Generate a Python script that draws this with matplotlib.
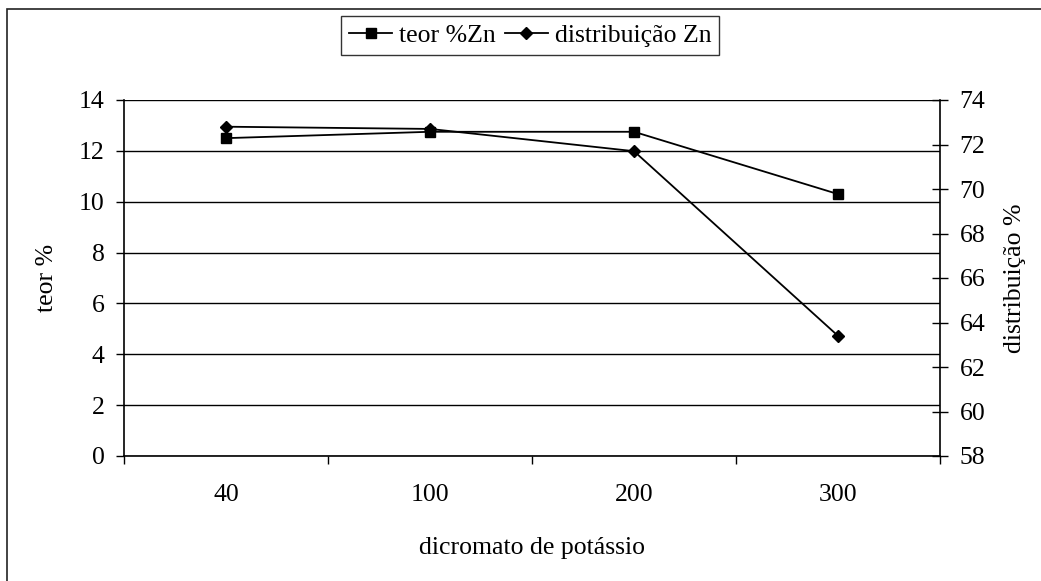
import numpy as np
import matplotlib
matplotlib.use("Agg")
import matplotlib.pyplot as plt
from matplotlib.patches import Rectangle
from matplotlib.lines import Line2D

plt.rcParams['font.family'] = ['Liberation Serif', 'DejaVu Serif']
plt.rcParams['font.size'] = 18.5

categorias = ['40', '100', '200', '300']
teor_zn = [12.5, 12.75, 12.75, 10.3]          # eixo esquerdo, %
distribuicao_zn = [72.8, 72.7, 71.7, 63.4]    # eixo direito, %

fig = plt.figure(figsize=(10.41, 5.81), dpi=100)
ax = fig.add_axes([124/1041, 1 - 456/581, 816/1041, 356/581])
ax2 = ax.twinx()

x = np.arange(len(categorias))

# linhas de grade horizontais do eixo primario
ax.set_ylim(0, 14)
ax.set_yticks(np.arange(0, 15, 2))
ax.set_xlim(-0.5, len(categorias) - 0.5)
ax.yaxis.grid(True, color='black', lw=1.0)
ax.set_axisbelow(True)

ax.plot(x, teor_zn, color='black', lw=1.3, marker='s', ms=7.5, zorder=3)
ax2.plot(x, distribuicao_zn, color='black', lw=1.3, marker='D', ms=6.5, zorder=3)

ax2.set_ylim(58, 74)
ax2.set_yticks(np.arange(58, 75, 2))

# eixo x por categorias: marcas nos limites, rotulos no centro
ax.set_xticks(np.arange(-0.5, len(categorias), 1.0))
ax.set_xticklabels([])
ax.set_xticks(x, minor=True)
ax.set_xticklabels(categorias, minor=True)
ax.tick_params(axis='x', which='major', direction='out', length=6, width=1)
ax.tick_params(axis='x', which='minor', length=0, pad=20)
ax.tick_params(axis='y', direction='out', length=6, width=1, pad=8)
ax2.tick_params(axis='y', direction='inout', length=12, width=1, pad=8)

for a in (ax, ax2):
    a.spines['top'].set_visible(False)
    for s in a.spines.values():
        s.set_linewidth(1.2)
ax.spines['right'].set_visible(False)
ax2.spines['left'].set_visible(False)
ax2.spines['bottom'].set_visible(False)

ax.set_xlabel('dicromato de potássio', va='center')
ax.xaxis.set_label_coords(0.5, -0.258)
ax.set_ylabel('teor %', va='center')
ax.yaxis.set_label_coords(-0.094, 0.5)
ax2.set_ylabel('distribuição %', va='center')
ax2.yaxis.set_label_coords(1.092, 0.5)

handles = [
    Line2D([], [], color='black', lw=1.3, marker='s', ms=7.5),
    Line2D([], [], color='black', lw=1.3, marker='D', ms=6.5),
]
leg = fig.legend(handles, ['teor %Zn', 'distribuição Zn'], ncol=2,
                 loc='center', bbox_to_anchor=(530/1041, 1 - 35.5/581),
                 frameon=True, fancybox=False, edgecolor='black',
                 borderpad=0.3, handlelength=1.7, handletextpad=0.25,
                 columnspacing=0.35)
leg.get_frame().set_linewidth(1.0)

# moldura externa do grafico
fig.patches.append(Rectangle((7/1041, -0.1), 1.2, 1.1 - 9/581,
                             transform=fig.transFigure, fill=False,
                             edgecolor='#222222', lw=1.2))

fig.savefig('out.png', dpi=100)
